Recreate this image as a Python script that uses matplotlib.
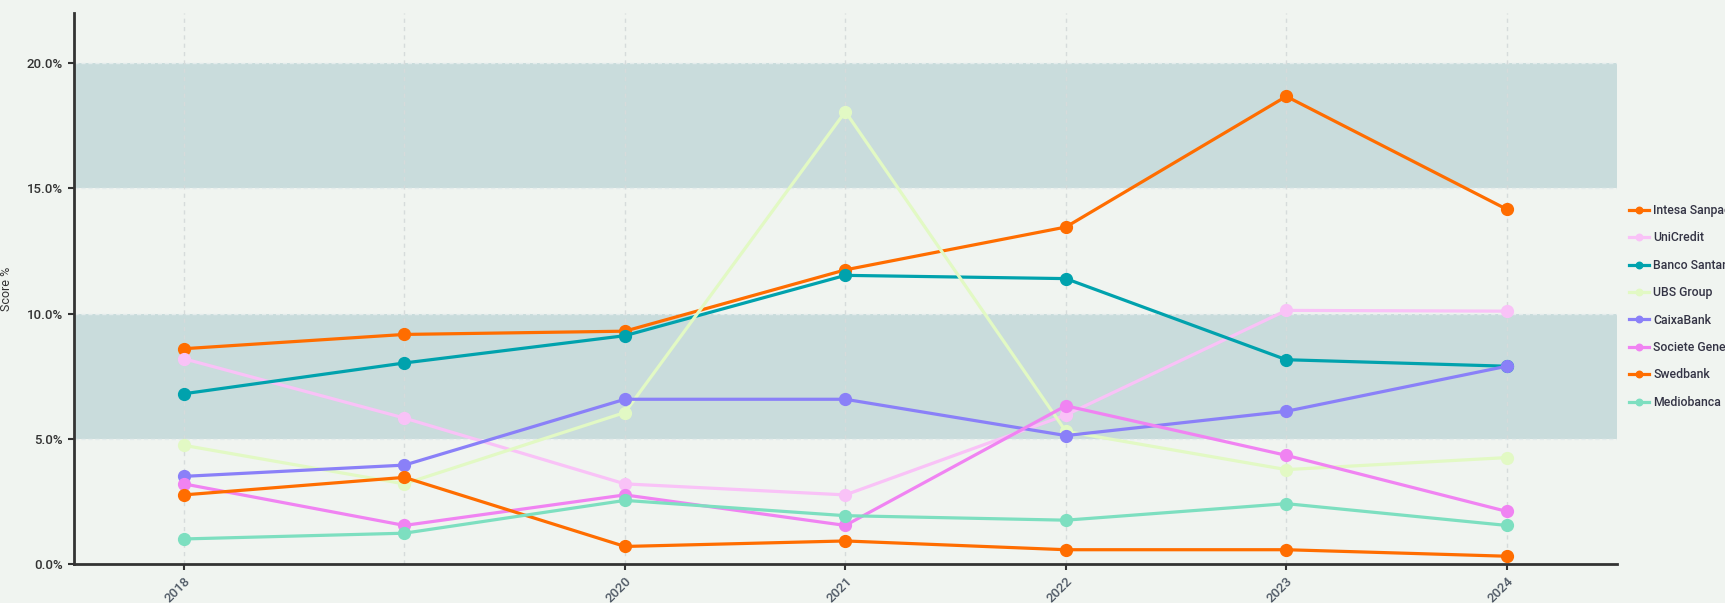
import matplotlib
matplotlib.use("Agg")
import matplotlib.pyplot as plt
from matplotlib.ticker import FuncFormatter

# data
years = [2018, 2019, 2020, 2021, 2022, 2023, 2024]
tick_years = [2018, 2020, 2021, 2022, 2023, 2024]

intesa = [8.6, 9.17, 9.3, 11.75, 13.46, 18.68, 14.17]
unicredit = [8.2, 5.83, 3.2, 2.76, 5.95, 10.13, 10.1]
santander = [6.8, 8.03, 9.12, 11.53, 11.4, 8.16, 7.9]
ubs = [4.74, 3.2, 6.05, 18.07, 5.3, 3.77, 4.25]
caixa = [3.5, 3.95, 6.58, 6.58, 5.13, 6.1, 7.9]
socgen = [3.2, 1.54, 2.76, 1.54, 6.32, 4.34, 2.1]
swedbank = [2.76, 3.46, 0.7, 0.92, 0.57, 0.57, 0.31]
mediobanca = [1.0, 1.23, 2.54, 1.93, 1.75, 2.41, 1.54]

series = [
    ("Intesa Sanpaolo", intesa, "#ff6d00"),
    ("UniCredit", unicredit, "#f9c2f7"),
    ("Banco Santander", santander, "#00a2ad"),
    ("UBS Group", ubs, "#e2f9c4"),
    ("CaixaBank", caixa, "#8a80f8"),
    ("Societe Generale", socgen, "#f083f2"),
    ("Swedbank", swedbank, "#ff6d00"),
    ("Mediobanca", mediobanca, "#7ddfc0"),
]

bg = "#f0f4f0"
plt.rcParams['font.family'] = ['Roboto', 'DejaVu Sans']

fig = plt.figure(figsize=(17.25, 6.03), dpi=100, facecolor=bg)
ax = fig.add_axes([0.0427, 0.0647, 0.8947, 0.9133])
ax.set_facecolor(bg)

# shaded bands
for lo, hi in [(5, 10), (15, 20)]:
    ax.axhspan(lo, hi, color="#c9dcdc", lw=0, zorder=0)

# grid
for y in [5, 10, 15, 20]:
    ax.axhline(y, color="#e4ecec", lw=1, ls=(0, (3, 2)), zorder=0.5)
for yr in years:
    ax.axvline(yr, color="#d6dbdb", lw=1, ls=(0, (3, 3)), zorder=0.5)

for name, vals, c in series:
    ax.plot(years, vals, color=c, lw=2.3, marker="o", markersize=8.5,
            label=name, zorder=3)

ax.set_xlim(2017.5, 2024.5)
ax.set_ylim(0, 22)
ax.set_yticks([0, 5, 10, 15, 20])
ax.yaxis.set_major_formatter(FuncFormatter(lambda v, p: f"{v:.1f}%"))
ax.set_xticks(tick_years)
ax.set_xticklabels([str(y) for y in tick_years], rotation=45, ha="right",
                   rotation_mode="anchor")
ax.tick_params(axis="both", labelsize=9.5, colors="#333333", width=1.5, length=4)
ax.tick_params(axis="x", labelcolor="#505a66")
for lab in ax.get_yticklabels() + ax.get_xticklabels():
    lab.set_fontweight("medium")

for s in ["top", "right"]:
    ax.spines[s].set_visible(False)
for s in ["left", "bottom"]:
    ax.spines[s].set_color("#333333")
    ax.spines[s].set_linewidth(2)

ax.set_ylabel("Score %", fontsize=9, color="#333333")
ax.yaxis.set_label_coords(-0.039, 0.5)

fig.legend(loc="upper left", bbox_to_anchor=(0.938, 0.68), frameon=False,
           prop={"size": 8.8, "weight": "medium"}, handlelength=1.6,
           markerscale=0.55, labelspacing=1.18, handletextpad=0.4,
           labelcolor="#333344")

fig.savefig("out.png", dpi=100, facecolor=bg)
